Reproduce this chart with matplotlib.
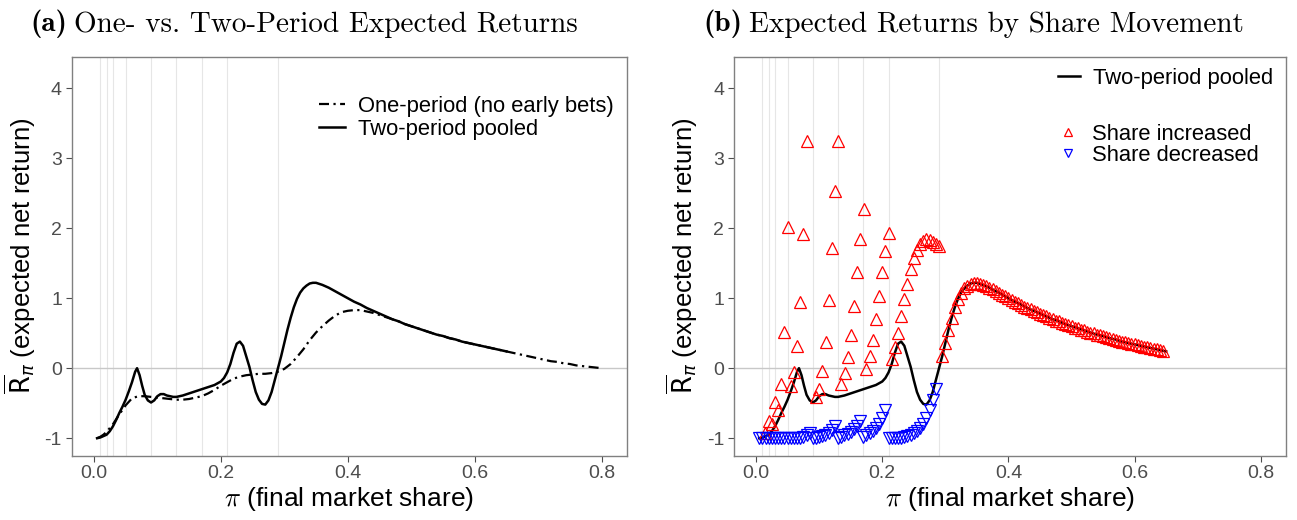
import numpy as np
import matplotlib.pyplot as plt
from matplotlib.lines import Line2D

plt.rcParams['font.family'] = ['Liberation Sans', 'DejaVu Sans']
plt.rcParams['axes.unicode_minus'] = False

# early-share buckets (light vertical guides)
bucket_lines = [0.01, 0.02, 0.03, 0.05, 0.09, 0.13, 0.17, 0.21, 0.29]

# two-period pooled expected net return
pooled_x = [0.005, 0.010, 0.015, 0.020, 0.025, 0.030, 0.035, 0.040, 0.045, 0.050,
            0.055, 0.060, 0.065, 0.068, 0.072, 0.076, 0.080, 0.085, 0.090, 0.095,
            0.100, 0.105, 0.110, 0.115, 0.120, 0.125, 0.130, 0.140, 0.150, 0.160,
            0.170, 0.180, 0.190, 0.200, 0.205, 0.210, 0.215, 0.220, 0.225, 0.230,
            0.235, 0.240, 0.245, 0.250, 0.255, 0.260, 0.265, 0.270, 0.275, 0.280,
            0.285, 0.290, 0.295, 0.300, 0.305, 0.310, 0.315, 0.320, 0.325, 0.330,
            0.335, 0.340, 0.345, 0.350, 0.360, 0.370, 0.380, 0.390, 0.400, 0.410,
            0.420, 0.430, 0.440, 0.450, 0.460, 0.470, 0.480, 0.490, 0.500, 0.510,
            0.520, 0.530, 0.540, 0.550, 0.560, 0.570, 0.580, 0.590, 0.600, 0.610,
            0.620, 0.630, 0.640, 0.650]
pooled_y = [-1.00, -0.99, -0.97, -0.95, -0.90, -0.83, -0.74, -0.64, -0.55, -0.45,
            -0.33, -0.20, -0.05, 0.00, -0.10, -0.25, -0.38, -0.46, -0.49, -0.46,
            -0.40, -0.37, -0.37, -0.39, -0.40, -0.41, -0.41, -0.39, -0.36, -0.33,
            -0.30, -0.27, -0.24, -0.19, -0.14, -0.06, 0.06, 0.22, 0.35, 0.38,
            0.32, 0.17, 0.02, -0.17, -0.34, -0.45, -0.51, -0.52, -0.46, -0.34,
            -0.17, 0.00, 0.17, 0.36, 0.55, 0.72, 0.87, 0.99, 1.08, 1.14,
            1.18, 1.21, 1.22, 1.22, 1.19, 1.15, 1.10, 1.05, 1.00, 0.95,
            0.91, 0.86, 0.82, 0.78, 0.74, 0.70, 0.67, 0.63, 0.60, 0.57,
            0.54, 0.51, 0.48, 0.46, 0.43, 0.41, 0.38, 0.36, 0.34, 0.32,
            0.30, 0.28, 0.26, 0.24]

# one-period (no early bets)
one_x = [0.005, 0.010, 0.015, 0.020, 0.030, 0.040, 0.050, 0.060, 0.070, 0.080,
         0.090, 0.100, 0.110, 0.120, 0.130, 0.140, 0.150, 0.160, 0.170, 0.180,
         0.190, 0.200, 0.210, 0.220, 0.230, 0.240, 0.250, 0.260, 0.270, 0.280,
         0.290, 0.300, 0.310, 0.320, 0.330, 0.340, 0.350, 0.360, 0.370, 0.380,
         0.390, 0.400, 0.410, 0.420, 0.430, 0.440, 0.450, 0.460, 0.470, 0.480,
         0.490, 0.500, 0.510, 0.520, 0.530, 0.540, 0.550, 0.560, 0.570, 0.580,
         0.590, 0.600, 0.610, 0.620, 0.630, 0.640, 0.650, 0.660, 0.670, 0.680,
         0.690, 0.700, 0.710, 0.720, 0.730, 0.740, 0.750, 0.760, 0.770, 0.780,
         0.790, 0.800]
one_y = [-1.00, -0.98, -0.95, -0.91, -0.80, -0.66, -0.53, -0.43, -0.40, -0.40,
         -0.41, -0.42, -0.43, -0.44, -0.45, -0.45, -0.44, -0.42, -0.40, -0.36,
         -0.31, -0.25, -0.20, -0.15, -0.12, -0.10, -0.09, -0.08, -0.08, -0.07,
         -0.05, -0.01, 0.06, 0.16, 0.27, 0.40, 0.51, 0.60, 0.68, 0.75,
         0.80, 0.82, 0.83, 0.83, 0.81, 0.79, 0.76, 0.73, 0.70, 0.67,
         0.63, 0.60, 0.57, 0.54, 0.51, 0.48, 0.46, 0.43, 0.41, 0.38,
         0.36, 0.34, 0.32, 0.30, 0.28, 0.26, 0.24, 0.22, 0.20, 0.18,
         0.16, 0.14, 0.12, 0.10, 0.09, 0.07, 0.06, 0.04, 0.03, 0.02,
         0.01, 0.00]

# share increased (early buckets, then the main branch)
up_x = [0.014, 0.0205, 0.025, 0.030, 0.035,
        0.0395, 0.045, 0.0505,
        0.055, 0.060, 0.065, 0.070, 0.075, 0.0805,
        0.095, 0.100, 0.105, 0.111, 0.115, 0.120, 0.125, 0.130,
        0.135, 0.141, 0.145, 0.150, 0.155, 0.160, 0.165, 0.171,
        0.175, 0.181, 0.185, 0.190, 0.195, 0.200, 0.205, 0.211,
        0.216, 0.220, 0.225, 0.230, 0.235, 0.239, 0.245, 0.250, 0.255,
        0.260, 0.265, 0.270, 0.275, 0.280, 0.285, 0.290]
up_y = [-0.92, -0.76, -0.79, -0.48, -0.60,
        -0.23, 0.52, 2.02,
        -0.25, -0.05, 0.32, 0.94, 1.92, 3.25,
        -0.41, -0.29, -0.04, 0.37, 0.97, 1.72, 2.53, 3.25,
        -0.22, -0.07, 0.16, 0.48, 0.89, 1.37, 1.85, 2.27,
        -0.01, 0.17, 0.41, 0.70, 1.03, 1.37, 1.68, 1.93,
        0.13, 0.30, 0.51, 0.75, 0.99, 1.21, 1.42, 1.58, 1.69,
        1.77, 1.82, 1.84, 1.83, 1.80, 1.77, 1.74]

main_x = list(np.round(np.linspace(0.295, 0.645, 71), 3))
main_y = [0.17, 0.36, 0.55, 0.72, 0.87, 0.99, 1.08, 1.14, 1.18, 1.21,
          1.22, 1.22, 1.21, 1.19, 1.17, 1.15, 1.13, 1.10, 1.08, 1.05,
          1.03, 1.00, 0.98, 0.95, 0.93, 0.91, 0.88, 0.86, 0.84, 0.82,
          0.80, 0.78, 0.76, 0.74, 0.72, 0.70, 0.68, 0.67, 0.65, 0.63,
          0.62, 0.60, 0.58, 0.57, 0.55, 0.54, 0.52, 0.51, 0.50, 0.48,
          0.47, 0.46, 0.44, 0.43, 0.42, 0.41, 0.39, 0.38, 0.37, 0.36,
          0.35, 0.34, 0.33, 0.32, 0.31, 0.30, 0.29, 0.28, 0.27, 0.26,
          0.25]

# share decreased
down_x = [0.005, 0.010, 0.015, 0.020, 0.025, 0.030, 0.035, 0.040, 0.045, 0.050,
          0.055, 0.060, 0.065, 0.070, 0.075, 0.080, 0.085,
          0.090, 0.095, 0.100, 0.105, 0.110, 0.115, 0.120, 0.125,
          0.130, 0.135, 0.140, 0.145, 0.150, 0.155, 0.160, 0.165,
          0.170, 0.175, 0.180, 0.185, 0.190, 0.195, 0.200, 0.205,
          0.210, 0.215, 0.220, 0.225, 0.230, 0.235, 0.240, 0.245,
          0.250, 0.255, 0.260, 0.265, 0.270, 0.275, 0.280, 0.285]
down_y = [-1.00, -1.00, -1.00, -1.00, -1.00, -1.00, -1.00, -1.00, -1.00, -1.00,
          -1.00, -1.00, -0.99, -0.99, -0.98, -0.96, -0.93,
          -1.00, -0.99, -0.98, -0.97, -0.95, -0.92, -0.88, -0.83,
          -0.99, -0.98, -0.96, -0.94, -0.91, -0.87, -0.82, -0.76,
          -0.98, -0.96, -0.93, -0.90, -0.85, -0.79, -0.71, -0.60,
          -1.00, -1.00, -1.00, -0.99, -0.99, -0.98, -0.97, -0.96,
          -0.93, -0.90, -0.85, -0.79, -0.71, -0.60, -0.45, -0.30]

x_ticks = [0.0, 0.2, 0.4, 0.6, 0.8]
y_ticks = [-1, 0, 1, 2, 3, 4]

W, H = 1297, 520
fig = plt.figure(figsize=(W / 100, H / 100), dpi=100)
ax_a = fig.add_axes([71.7 / W, 64.3 / H, 555.3 / W, 399 / H])
ax_b = fig.add_axes([734 / W, 64.3 / H, 552 / W, 399 / H])

dotdash = (0, (4.5, 2, 1, 2))


def style(ax):
    ax.set_xlim(-0.035, 0.84)
    ax.set_ylim(-1.25, 4.45)
    ax.set_xticks(x_ticks)
    ax.set_xticklabels([f"{v:.1f}" for v in x_ticks])
    ax.set_yticks(y_ticks)
    for v in bucket_lines:
        ax.axvline(v, color='#E6E6E6', lw=0.8, zorder=0)
    ax.axhline(0, color='#C8C8C8', lw=1.0, zorder=0)
    for s in ax.spines.values():
        s.set_color('#808080')
        s.set_linewidth(1.0)
    ax.tick_params(colors='#4D4D4D', labelsize=14, length=4, width=0.8, pad=3)
    ax.set_xlabel(r'$\pi$ (final market share)', fontsize=19, labelpad=2,
                  math_fontfamily='cm')
    ax.set_ylabel(r'$\overline{\mathrm{R}}_{\pi}$ (expected net return)', fontsize=18.5,
                  labelpad=5)


def title(x, tag, text):
    t = fig.text(x / W, 1 - 31 / H, tag, fontfamily='cmb10', fontsize=21, va='baseline')
    ax_a.annotate(text, xy=(1, 0), xycoords=t, xytext=(5, 0), textcoords='offset points',
                  fontfamily='cmr10', fontsize=21, va='bottom', annotation_clip=False)


# (a) one-period vs two-period
style(ax_a)
ax_a.plot(one_x, one_y, color='black', lw=1.6, linestyle=dotdash, zorder=2)
ax_a.plot(pooled_x, pooled_y, color='black', lw=1.8, zorder=3)
h_one = Line2D([], [], color='black', lw=1.6, linestyle=dotdash)
h_two = Line2D([], [], color='black', lw=1.8)
ax_a.legend([h_one, h_two], ['One-period (no early bets)', 'Two-period pooled'],
            loc='upper right', bbox_to_anchor=(1.0, 0.935), frameon=False, fontsize=15.8,
            handlelength=1.2, handletextpad=0.6, labelspacing=0.1, borderaxespad=0.2)

# (b) split by share movement
style(ax_b)
ax_b.plot(pooled_x, pooled_y, color='black', lw=1.8, zorder=2)
mk = dict(linestyle='none', markerfacecolor='none', markersize=8, markeredgewidth=0.9, zorder=3)
ax_b.plot(up_x, up_y, marker='^', markeredgecolor='red', **mk)
ax_b.plot(main_x, main_y, marker='^', markeredgecolor='red', **mk)
ax_b.plot(down_x, down_y, marker='v', markeredgecolor='blue', **mk)

leg1 = ax_b.legend([Line2D([], [], color='black', lw=1.8)], ['Two-period pooled'],
                   loc='upper right', bbox_to_anchor=(1.0, 1.005), frameon=False,
                   fontsize=15.8, handlelength=1.0, handletextpad=0.6, borderaxespad=0.2)
ax_b.add_artist(leg1)
h_up = Line2D([], [], marker='^', markeredgecolor='red', markerfacecolor='none',
              linestyle='none', markersize=6, markeredgewidth=0.9)
h_dn = Line2D([], [], marker='v', markeredgecolor='blue', markerfacecolor='none',
              linestyle='none', markersize=6, markeredgewidth=0.9)
ax_b.legend([h_up, h_dn], ['Share increased', 'Share decreased'],
            loc='upper right', bbox_to_anchor=(0.975, 0.865), frameon=False, fontsize=15.8,
            handlelength=1.0, handletextpad=0.6, labelspacing=0.0, borderaxespad=0.2)

title(30, '(a)', 'One- vs. Two-Period Expected Returns')
title(703, '(b)', 'Expected Returns by Share Movement')

fig.savefig('out.png', dpi=100)
